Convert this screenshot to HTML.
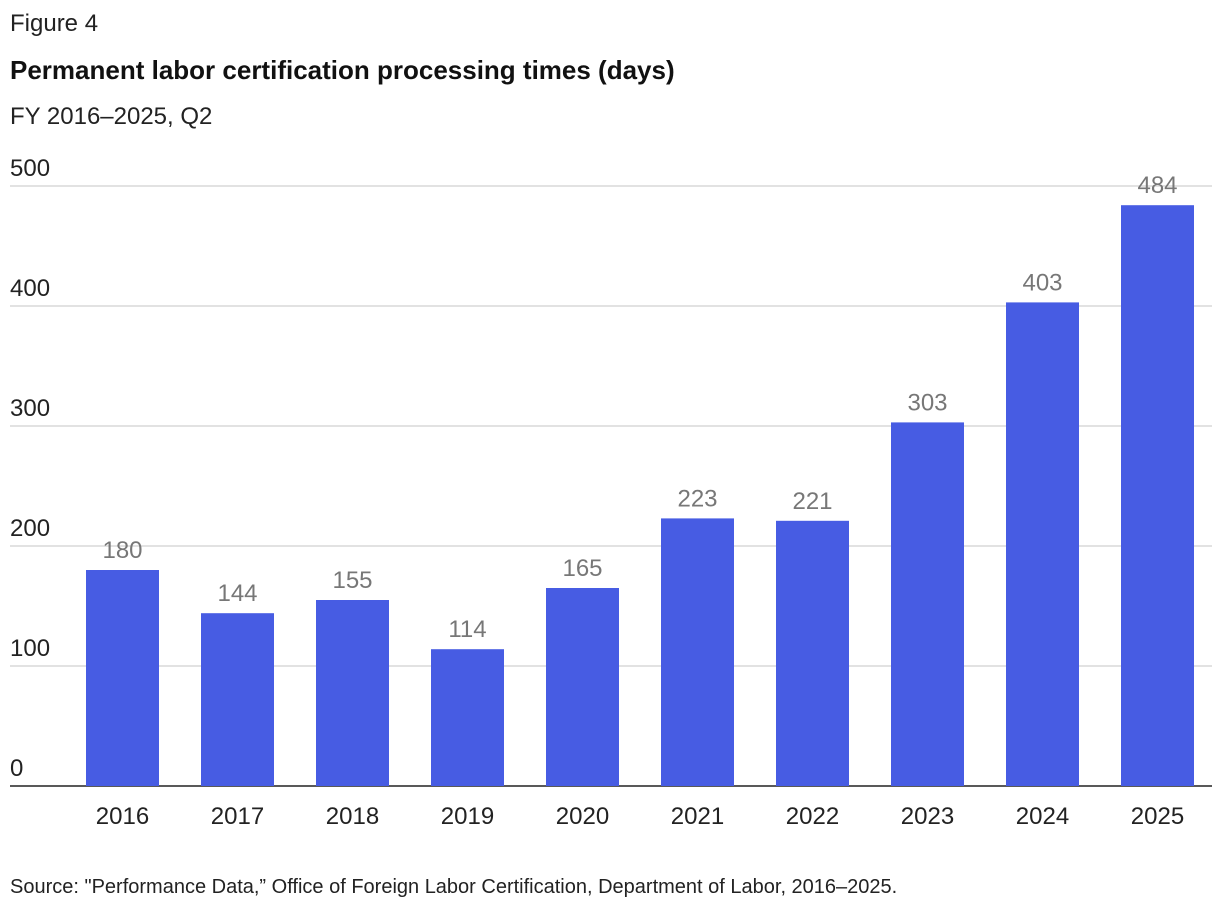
<!DOCTYPE html>
<html><head><meta charset="utf-8">
<style>
body{margin:0;background:#fff;font-family:"Liberation Sans",sans-serif;}
svg{display:block}
</style></head>
<body>
<svg width="1220" height="916" xmlns="http://www.w3.org/2000/svg">
<text x="10" y="31" font-size="24" fill="#222">Figure 4</text>
<text x="10" y="79" font-size="26" font-weight="bold" fill="#111">Permanent labor certification processing times (days)</text>
<text x="10" y="124" font-size="24" fill="#222">FY 2016–2025, Q2</text>
<g id="grid"></g>
<g id="bars"></g>
<text x="10" y="893" font-size="20" fill="#222">Source: "Performance Data,” Office of Foreign Labor Certification, Department of Labor, 2016–2025.</text>
</svg>
<script>
const categories=["2016","2017","2018","2019","2020","2021","2022","2023","2024","2025"];
const values=[180,144,155,114,165,223,221,303,403,484];
const ticks=[0,100,200,300,400,500];
const NS="http://www.w3.org/2000/svg";
const y0=786, ppu=1.2;
function yScale(v){return y0-v*ppu;}
function xScale(i){return 86+i*115;}
const bw=73;
const grid=document.getElementById('grid');
ticks.forEach(t=>{
  const y=yScale(t);
  const l=document.createElementNS(NS,'line');
  l.setAttribute('x1',10);l.setAttribute('x2',1212);l.setAttribute('y1',y);l.setAttribute('y2',y);
  l.setAttribute('stroke',t===0?'#222':'#d0d0d0');l.setAttribute('stroke-width',t===0?1.5:1.2);
  
  
  grid.appendChild(l);
  const tx=document.createElementNS(NS,'text');
  tx.setAttribute('x',10);tx.setAttribute('y',y-10);tx.setAttribute('font-size',24);tx.setAttribute('fill','#222');
  tx.textContent=t;
  
  
  grid.appendChild(tx);
});
const bars=document.getElementById('bars');
categories.forEach((c,i)=>{
  const x=xScale(i), y=yScale(values[i]);
  const r=document.createElementNS(NS,'rect');
  r.setAttribute('x',x);r.setAttribute('y',y);r.setAttribute('width',bw);r.setAttribute('height',y0-y);
  r.setAttribute('fill','#475ce3');
  
  
  bars.appendChild(r);
  const v=document.createElementNS(NS,'text');
  v.setAttribute('x',x+bw/2);v.setAttribute('y',y-12);v.setAttribute('text-anchor','middle');
  v.setAttribute('font-size',24);v.setAttribute('fill','#777');
  v.textContent=values[i];
  
  
  bars.appendChild(v);
  const lb=document.createElementNS(NS,'text');
  lb.setAttribute('x',x+bw/2);lb.setAttribute('y',824);lb.setAttribute('text-anchor','middle');
  lb.setAttribute('font-size',24);lb.setAttribute('fill','#222');
  lb.textContent=c;
  
  
  bars.appendChild(lb);
});
</script>
</body></html>
